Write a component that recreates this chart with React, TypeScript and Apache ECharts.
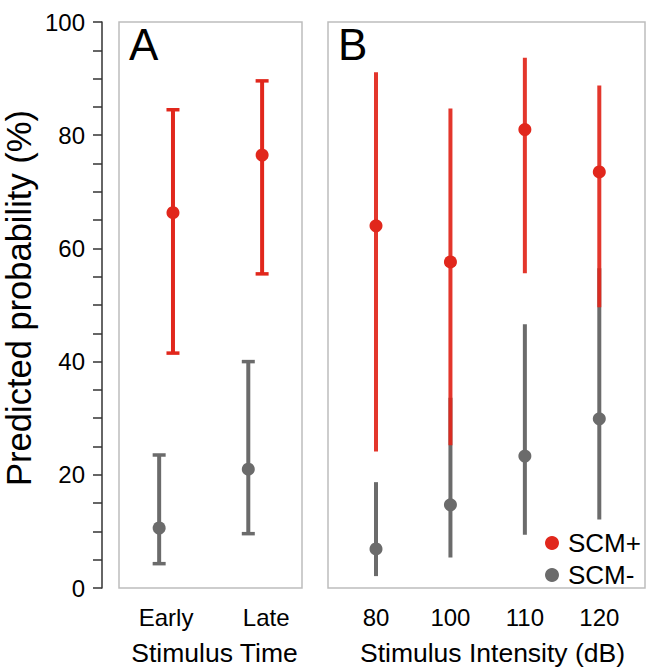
import React, { useEffect, useRef } from "react";
import * as echarts from "echarts";

// ---- data ----
const timeCategories = ["Early", "Late"];
const scmPlusTimeEst = [66.3, 76.5];
const scmPlusTimeLow = [41.5, 55.5];
const scmPlusTimeHigh = [84.5, 89.6];
const scmMinusTimeEst = [10.6, 21.0];
const scmMinusTimeLow = [4.3, 9.6];
const scmMinusTimeHigh = [23.5, 40.0];

const intensityCategories = ["80", "100", "110", "120"];
const scmPlusIntEst = [64.0, 57.6, 81.0, 73.5];
const scmPlusIntLow = [24.1, 25.2, 55.6, 49.6];
const scmPlusIntHigh = [91.1, 84.7, 93.7, 88.8];
const scmMinusIntEst = [6.9, 14.7, 23.3, 29.9];
const scmMinusIntLow = [2.1, 5.4, 9.4, 12.1];
const scmMinusIntHigh = [18.7, 33.6, 46.6, 56.5];

const yTicks = [0, 20, 40, 60, 80, 100];

const RED = "#e1271c";
const GRAY = "#6b6b6b";
const FONT = "Liberation Sans, Arial, Helvetica, sans-serif";
const DODGE = 0.0775;

function barRenderer(color: string, capHalf: number, opacity: number) {
  return (params: any, api: any) => {
    const x = api.value(0);
    const lo = api.value(1);
    const hi = api.value(2);
    const top = api.coord([x, hi]);
    const bot = api.coord([x, lo]);
    const style = { stroke: color, lineWidth: 4, opacity };
    const children: any[] = [
      { type: "line", shape: { x1: top[0], y1: top[1], x2: bot[0], y2: bot[1] }, style },
    ];
    if (capHalf > 0) {
      children.push({
        type: "line",
        shape: { x1: top[0] - capHalf, y1: top[1], x2: top[0] + capHalf, y2: top[1] },
        style: { ...style, lineWidth: 3.5 },
      });
      children.push({
        type: "line",
        shape: { x1: bot[0] - capHalf, y1: bot[1], x2: bot[0] + capHalf, y2: bot[1] },
        style: { ...style, lineWidth: 3.5 },
      });
    }
    return { type: "group", children };
  };
}

export default function App() {
  const ref = useRef<HTMLDivElement>(null);

  useEffect(() => {
    if (!ref.current) return;
    const chart = echarts.init(ref.current, null, { renderer: "svg" });

    const timeX = (i: number, d: number) => i + 1 + d;

    const plusTimeBars = timeCategories.map((_, i) => [timeX(i, DODGE), scmPlusTimeLow[i], scmPlusTimeHigh[i]]);
    const minusTimeBars = timeCategories.map((_, i) => [timeX(i, -DODGE), scmMinusTimeLow[i], scmMinusTimeHigh[i]]);
    const plusTimePts = timeCategories.map((_, i) => [timeX(i, DODGE), scmPlusTimeEst[i]]);
    const minusTimePts = timeCategories.map((_, i) => [timeX(i, -DODGE), scmMinusTimeEst[i]]);

    const plusIntBars = intensityCategories.map((_, i) => [i + 1, scmPlusIntLow[i], scmPlusIntHigh[i]]);
    const minusIntBars = intensityCategories.map((_, i) => [i + 1, scmMinusIntLow[i], scmMinusIntHigh[i]]);
    const plusIntPts = intensityCategories.map((_, i) => [i + 1, scmPlusIntEst[i]]);
    const minusIntPts = intensityCategories.map((_, i) => [i + 1, scmMinusIntEst[i]]);

    const labelStyle = { fontFamily: FONT, fontSize: 24, color: "#000" };
    const titleStyle = { fontFamily: FONT, fontSize: 26.5, color: "#000" };

    chart.setOption({
      animation: false,
      backgroundColor: "#fff",
      grid: [
        { left: 116, top: 22, width: 186, height: 568, show: true, borderColor: "#bdbdbd", borderWidth: 1.5 },
        { left: 328, top: 22, width: 317, height: 568, show: true, borderColor: "#bdbdbd", borderWidth: 1.5 },
      ],
      xAxis: [
        {
          type: "value",
          gridIndex: 0,
          min: 0.472,
          max: 2.525,
          axisLine: { show: false },
          axisTick: { show: false },
          splitLine: { show: false },
          axisLabel: {
            ...labelStyle,
            margin: 17,
            customValues: [1, 2],
            formatter: (v: number) => {
              const name = timeCategories[Math.round(v) - 1];
              return Math.round(v) === 2 ? "{late|" + name + "}" : name;
            },
            rich: { late: { ...labelStyle, padding: [0, 0, 0, 22] } },
          },
          name: "Stimulus Time",
          nameLocation: "middle",
          nameGap: 51,
          nameTextStyle: { ...titleStyle, padding: [0, 0, 0, 8] },
        },
        {
          type: "value",
          gridIndex: 1,
          min: 0.355,
          max: 4.614,
          axisLine: { show: false },
          axisTick: { show: false },
          splitLine: { show: false },
          axisLabel: {
            ...labelStyle,
            margin: 17,
            customValues: [1, 2, 3, 4],
            formatter: (v: number) => intensityCategories[Math.round(v) - 1],
          },
          name: "Stimulus Intensity (dB)",
          nameLocation: "middle",
          nameGap: 51,
          nameTextStyle: { ...titleStyle, padding: [0, 0, 0, 12] },
        },
      ],
      yAxis: [
        {
          type: "value",
          gridIndex: 0,
          min: 0,
          max: 100,
          interval: 5,
          offset: 17,
          axisLine: { show: true, lineStyle: { color: "#333", width: 1.5 } },
          axisTick: { show: true, length: 9, lineStyle: { color: "#333", width: 1.5 } },
          splitLine: { show: false },
          axisLabel: {
            ...labelStyle,
            margin: 17,
            formatter: (v: number) => (yTicks.indexOf(v) >= 0 ? String(v) : ""),
          },
          name: "Predicted probability (%)",
          nameLocation: "middle",
          nameGap: 66,
          nameTextStyle: { fontFamily: FONT, fontSize: 34.5, color: "#000", padding: [0, 0, 0, 14] },
        },
        {
          type: "value",
          gridIndex: 1,
          min: 0,
          max: 100,
          show: false,
        },
      ],
      legend: {
        orient: "vertical",
        left: 540,
        top: 525,
        itemWidth: 14,
        itemHeight: 14,
        itemGap: 6,
        icon: "circle",
        textStyle: { fontFamily: FONT, fontSize: 26, color: "#000", padding: [0, 0, 0, 4] },
        data: ["SCM+", "SCM-"],
      },
      graphic: [
        { type: "text", left: 129, top: 22, style: { text: "A", font: "44px " + FONT, fill: "#000" } },
        { type: "text", left: 338, top: 22, style: { text: "B", font: "44px " + FONT, fill: "#000" } },
      ],
      series: [
        { type: "custom", name: "SCM- bars A", xAxisIndex: 0, yAxisIndex: 0, renderItem: barRenderer(GRAY, 6.5, 1), data: minusTimeBars, encode: { x: 0, y: [1, 2] }, silent: true, z: 2 },
        { type: "scatter", name: "SCM-", xAxisIndex: 0, yAxisIndex: 0, data: minusTimePts, symbolSize: 13, itemStyle: { color: GRAY, opacity: 1 }, z: 3 },
        { type: "custom", name: "SCM+ bars A", xAxisIndex: 0, yAxisIndex: 0, renderItem: barRenderer(RED, 6.5, 1), data: plusTimeBars, encode: { x: 0, y: [1, 2] }, silent: true, z: 4 },
        { type: "scatter", name: "SCM+", xAxisIndex: 0, yAxisIndex: 0, data: plusTimePts, symbolSize: 13, itemStyle: { color: RED, opacity: 1 }, z: 5 },
        { type: "custom", name: "SCM- bars B", xAxisIndex: 1, yAxisIndex: 1, renderItem: barRenderer(GRAY, 0, 1), data: minusIntBars, encode: { x: 0, y: [1, 2] }, silent: true, z: 2 },
        { type: "scatter", name: "SCM-", xAxisIndex: 1, yAxisIndex: 1, data: minusIntPts, symbolSize: 13, itemStyle: { color: GRAY, opacity: 1 }, z: 3 },
        { type: "custom", name: "SCM+ bars B", xAxisIndex: 1, yAxisIndex: 1, renderItem: barRenderer(RED, 0, 0.93), data: plusIntBars, encode: { x: 0, y: [1, 2] }, silent: true, z: 4 },
        { type: "scatter", name: "SCM+", xAxisIndex: 1, yAxisIndex: 1, data: plusIntPts, symbolSize: 13, itemStyle: { color: RED, opacity: 1 }, z: 5 },
      ],
    });

    return () => chart.dispose();
  }, []);

  return (
    <div
      ref={ref}
      style={{ position: "fixed", left: 0, top: 0, width: 646, height: 671, background: "#fff" }}
    />
  );
}
